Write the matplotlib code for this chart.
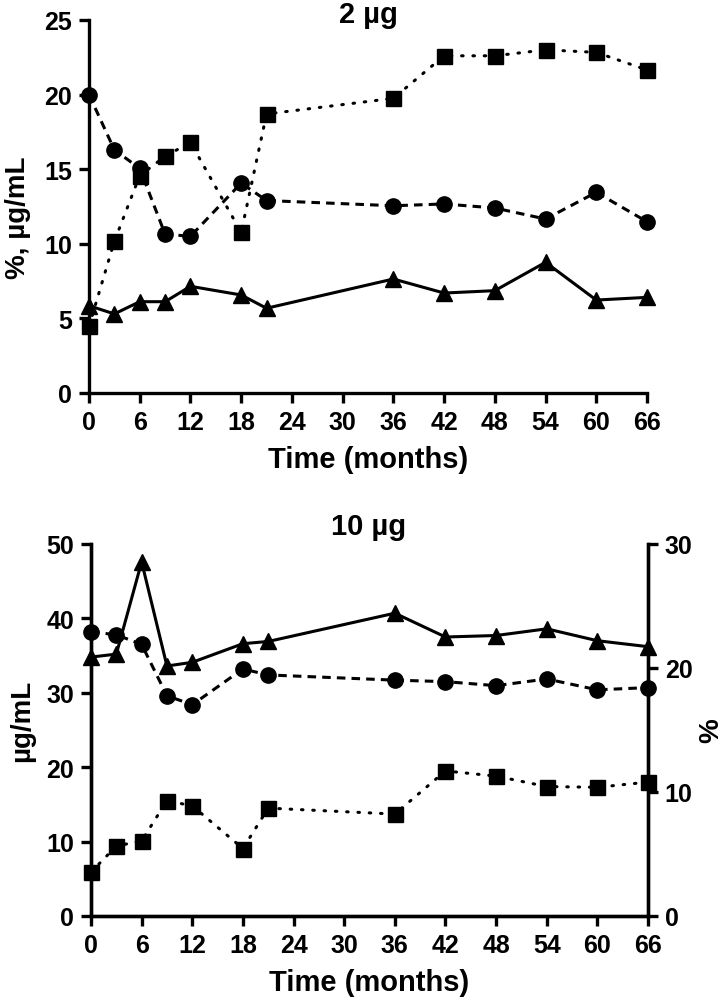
import matplotlib
matplotlib.use("Agg")
import matplotlib.pyplot as plt

plt.rcParams.update({
    'font.family': ['Liberation Sans', 'DejaVu Sans'],
    'font.weight': 'bold',
    'font.size': 18,
    'axes.linewidth': 2.4,
})

# months
months = [0, 3, 6, 9, 12, 18, 21, 36, 42, 48, 54, 60, 66]
x_ticks = [0, 6, 12, 18, 24, 30, 36, 42, 48, 54, 60, 66]

# 2 ug panel
circ_2 = [20.0, 16.3, 15.05, 10.65, 10.5, 14.07, 12.9, 12.55, 12.67, 12.4, 11.66, 13.45, 11.48]
sq_2 = [4.47, 10.17, 14.57, 15.86, 16.8, 10.77, 18.7, 19.75, 22.6, 22.6, 23.0, 22.83, 21.65]
tri_2 = [5.85, 5.3, 6.12, 6.12, 7.15, 6.57, 5.68, 7.64, 6.7, 6.86, 8.76, 6.23, 6.41]

# 10 ug panel
circ_10 = [38.2, 37.8, 36.5, 29.6, 28.4, 33.2, 32.4, 31.7, 31.5, 30.96, 31.86, 30.4, 30.7]
sq_10 = [5.9, 9.4, 10.1, 15.5, 14.8, 9.07, 14.5, 13.7, 19.5, 18.8, 17.4, 17.3, 18.0]
tri_10 = [34.8, 35.2, 47.6, 33.6, 34.1, 36.6, 36.9, 40.7, 37.5, 37.7, 38.6, 37.0, 36.2]

W, H = 726, 1004
fig = plt.figure(figsize=(W / 100, H / 100), dpi=100)

ax1 = fig.add_axes([89 / W, 1 - 394 / H, (647 - 89) / W, (394 - 21) / H])
ax2 = fig.add_axes([91 / W, 1 - 917 / H, (648 - 91) / W, (917 - 545) / H])

lw = 2.2
style = dict(color='black', linewidth=lw, clip_on=False)
TICK = dict(direction='out', length=7, width=2.4, labelsize=18, pad=5)


def draw(ax, circ, sq, tri):
    ax.plot(months, circ, linestyle=(0, (2.8, 2.0)), marker='o', markersize=11, **style)
    ax.plot(months, sq, linestyle=(0, (0.5, 3.2)), dash_capstyle='round',
            marker='s', markersize=10.8, **style)
    ax.plot(months, tri, linestyle='-', marker='^', markersize=11, **style)
    ax.set_xlim(0, 66)
    ax.set_xticks(x_ticks)
    ax.spines['top'].set_visible(False)
    ax.tick_params(**TICK)
    for lab in ax.get_xticklabels() + ax.get_yticklabels():
        lab.set_fontweight('bold')
    ax.set_xlabel('Time (months)', fontsize=21, fontweight='bold', labelpad=8)


draw(ax1, circ_2, sq_2, tri_2)
ax1.spines['right'].set_visible(False)
ax1.set_ylim(0, 25)
ax1.set_yticks([0, 5, 10, 15, 20, 25])
ax1.set_ylabel('%, µg/mL', fontsize=20, fontweight='bold')
ax1.yaxis.set_label_coords((31 - 89) / 558, 0.472)
fig.text(368 / W, 1 - 23 / H, '2 µg', fontsize=21, fontweight='bold',
         ha='center', va='baseline')

draw(ax2, circ_10, sq_10, tri_10)
ax2.set_ylim(0, 50)
ax2.set_yticks([0, 10, 20, 30, 40, 50])
ax2.set_ylabel('µg/mL', fontsize=20, fontweight='bold')
ax2.yaxis.set_label_coords((35 - 91) / 557, 0.527)
fig.text(369 / W, 1 - 535 / H, '10 µg', fontsize=21, fontweight='bold',
         ha='center', va='baseline')

axr = ax2.twinx()
axr.set_ylim(0, 30)
axr.set_yticks([0, 10, 20, 30])
axr.spines['top'].set_visible(False)
axr.tick_params(**TICK)
for lab in axr.get_yticklabels():
    lab.set_fontweight('bold')
axr.set_ylabel('%', fontsize=20, fontweight='bold', labelpad=4)

fig.savefig('out.png', dpi=100, facecolor='white')
